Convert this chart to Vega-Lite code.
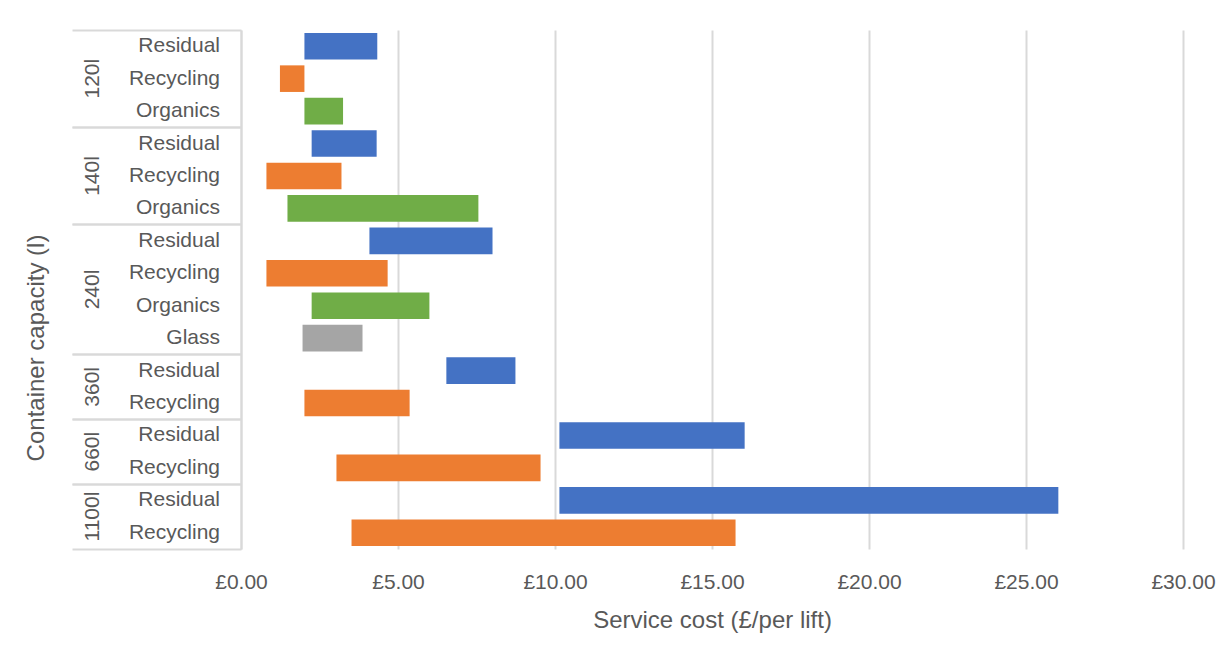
{
  "$schema": "https://vega.github.io/schema/vega-lite/v6.json",
  "width": 942,
  "height": 519,
  "autosize": {"type": "none"},
  "padding": {"left": 241, "top": 30, "right": 46, "bottom": 96},
  "background": "white",
  "config": {
    "view": {"stroke": null},
    "font": "Liberation Sans",
    "axis": {"labelColor": "#595959", "titleColor": "#595959", "titleFontWeight": "normal", "labelFontSize": 21, "titleFontSize": 24, "labelOverlap": false}
  },
  "data": {
    "values": [
      {"group": "120l", "stream": "Residual", "row": "120l|Residual", "lo": 2.02, "hi": 4.34},
      {"group": "120l", "stream": "Recycling", "row": "120l|Recycling", "lo": 1.24, "hi": 2.02},
      {"group": "120l", "stream": "Organics", "row": "120l|Organics", "lo": 2.02, "hi": 3.25},
      {"group": "140l", "stream": "Residual", "row": "140l|Residual", "lo": 2.25, "hi": 4.32},
      {"group": "140l", "stream": "Recycling", "row": "140l|Recycling", "lo": 0.81, "hi": 3.2},
      {"group": "140l", "stream": "Organics", "row": "140l|Organics", "lo": 1.48, "hi": 7.56},
      {"group": "240l", "stream": "Residual", "row": "240l|Residual", "lo": 4.09, "hi": 8.01},
      {"group": "240l", "stream": "Recycling", "row": "240l|Recycling", "lo": 0.81, "hi": 4.67},
      {"group": "240l", "stream": "Organics", "row": "240l|Organics", "lo": 2.25, "hi": 6.0},
      {"group": "240l", "stream": "Glass", "row": "240l|Glass", "lo": 1.96, "hi": 3.87},
      {"group": "360l", "stream": "Residual", "row": "360l|Residual", "lo": 6.54, "hi": 8.74},
      {"group": "360l", "stream": "Recycling", "row": "360l|Recycling", "lo": 2.02, "hi": 5.37},
      {"group": "660l", "stream": "Residual", "row": "660l|Residual", "lo": 10.14, "hi": 16.04},
      {"group": "660l", "stream": "Recycling", "row": "660l|Recycling", "lo": 3.04, "hi": 9.54},
      {"group": "1100l", "stream": "Residual", "row": "1100l|Residual", "lo": 10.14, "hi": 26.03},
      {"group": "1100l", "stream": "Recycling", "row": "1100l|Recycling", "lo": 3.52, "hi": 15.75}
    ]
  },
  "layer": [
    {
      "mark": {"type": "bar", "height": {"band": 0.82}},
      "encoding": {
        "y": {
          "field": "row", "type": "nominal", "sort": null,
          "scale": {"paddingInner": 0, "paddingOuter": 0},
          "axis": {
            "orient": "left", "title": "Container capacity (l)",
            "labelExpr": "split(datum.label, '|')[1]",
            "ticks": false, "domain": true, "domainColor": "#D9D9D9", "domainWidth": 2,
            "grid": false, "labelPadding": 21.5, "labelAlign": "right", "labelBaseline": "middle",
            "titleX": -198, "titleY": 317.5, "titleAngle": 270, "titleAlign": "center", "titleBaseline": "alphabetic"
          }
        },
        "x": {
          "field": "lo", "type": "quantitative",
          "scale": {"domain": [0, 30], "nice": false},
          "axis": {
            "title": "Service cost (£/per lift)",
            "values": [0, 5, 10, 15, 20, 25, 30],
            "labelExpr": "'£' + format(datum.value, '.2f')",
            "grid": true, "gridColor": "#D9D9D9", "gridWidth": 2,
            "domain": false, "ticks": false, "labelFlush": false,
            "labelPadding": 39, "labelBaseline": "alphabetic",
            "titleBaseline": "alphabetic", "titleY": 78
          }
        },
        "x2": {"field": "hi"},
        "color": {
          "field": "stream", "type": "nominal",
          "scale": {"domain": ["Residual", "Recycling", "Organics", "Glass"], "range": ["#4472C4", "#ED7D31", "#70AD47", "#A5A5A5"]},
          "legend": null
        }
      }
    },
    {
      "mark": {"type": "rect", "opacity": 0},
      "encoding": {
        "y": {
          "field": "row", "type": "nominal", "sort": null,
          "scale": {"type": "band", "paddingInner": 0, "paddingOuter": 0},
          "axis": {
            "orient": "left", "title": null,
            "values": ["120l|Residual", "140l|Residual", "240l|Residual", "360l|Residual", "660l|Residual", "1100l|Residual"],
            "bandPosition": 0, "labels": false, "domain": false, "grid": false,
            "ticks": true, "tickSize": 169, "tickColor": "#D9D9D9", "tickWidth": 2
          }
        }
      }
    },
    {
      "mark": {"type": "rect", "opacity": 0},
      "encoding": {
        "y": {
          "field": "row", "type": "nominal", "sort": null,
          "scale": {"type": "band", "paddingInner": 0, "paddingOuter": 0},
          "axis": {
            "orient": "left", "title": null,
            "values": ["120l|Organics", "140l|Organics", "240l|Glass", "360l|Recycling", "660l|Recycling", "1100l|Recycling"],
            "bandPosition": 1, "labels": false, "domain": false, "grid": false,
            "ticks": true, "tickSize": 169, "tickColor": "#D9D9D9", "tickWidth": 2
          }
        }
      }
    },
    {
      "mark": {"type": "rect", "opacity": 0},
      "encoding": {
        "y": {
          "field": "row", "type": "nominal", "sort": null,
          "scale": {"type": "band", "paddingInner": 0, "paddingOuter": 0},
          "axis": {
            "orient": "left", "title": null,
            "values": ["120l|Recycling", "140l|Recycling"],
            "bandPosition": 0.5, "labelExpr": "split(datum.label, '|')[0]",
            "labelAngle": 270, "labelAlign": "center", "labelBaseline": "alphabetic", "labelPadding": 143,
            "domain": false, "grid": false, "ticks": false
          }
        }
      }
    },
    {
      "mark": {"type": "rect", "opacity": 0},
      "encoding": {
        "y": {
          "field": "row", "type": "nominal", "sort": null,
          "scale": {"type": "band", "paddingInner": 0, "paddingOuter": 0},
          "axis": {
            "orient": "left", "title": null,
            "values": ["240l|Organics", "360l|Recycling", "660l|Recycling", "1100l|Recycling"],
            "bandPosition": 0.5, "labelOffset": -16.2, "labelExpr": "split(datum.label, '|')[0]",
            "labelAngle": 270, "labelAlign": "center", "labelBaseline": "alphabetic", "labelPadding": 143,
            "domain": false, "grid": false, "ticks": false
          }
        }
      }
    }
  ],
  "resolve": {"scale": {"y": "independent"}}
}
